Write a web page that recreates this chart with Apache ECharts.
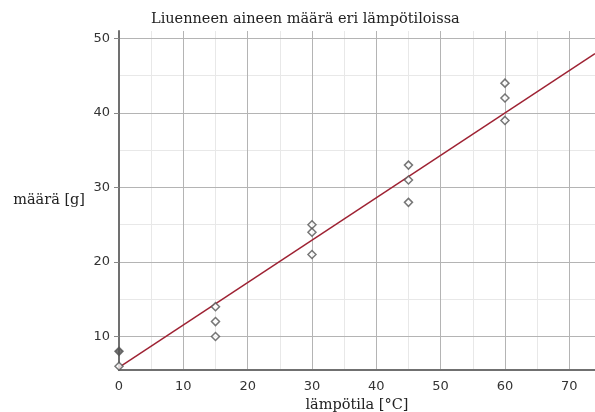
<!DOCTYPE html>
<html>
<head>
<meta charset="utf-8">
<script src="https://cdn.jsdelivr.net/npm/echarts@6/dist/echarts.min.js"></script>
<style>
  html, body { margin: 0; padding: 0; background: #fff; }
  #chart { width: 595px; height: 412px; }
</style>
</head>
<body>
<div id="chart"></div>
<script>
// mittaukset: lämpötila ja liuenneen aineen määrä
var tempX = [0, 0, 15, 15, 15, 30, 30, 30, 45, 45, 45, 60, 60, 60];
var amountY = [6, 8, 14, 12, 10, 25, 24, 21, 33, 31, 28, 44, 42, 39];
// sovitettu suora (päätepisteet luettu kuvasta)
var trendX = [0, 74];
var trendY = [5.85, 47.95];
var xTicks = [0, 10, 20, 30, 40, 50, 60, 70];
var yTicks = [10, 20, 30, 40, 50];
var yMinorTicks = [15, 25, 35, 45];

var serif = '"DejaVu Serif", serif';
var sans = '"DejaVu Sans", sans-serif';

var chart = echarts.init(document.getElementById('chart'));

var points = tempX.map(function (x, i) {
  var p = { value: [x, amountY[i]] };
  if (x === 0 && amountY[i] === 8) {
    p.itemStyle = { color: '#555' };
  }
  return p;
});

var option = {
  animation: false,
  title: {
    text: 'Liuenneen aineen määrä eri lämpötiloissa',
    left: 146,
    top: 7,
    textStyle: { fontFamily: serif, fontSize: 14.5, fontWeight: 'normal', color: '#222' }
  },
  grid: { left: 119, right: 0, top: 31, bottom: 42, containLabel: false, outerBoundsMode: 'none' },
  xAxis: [
    {
      type: 'value',
      min: 0,
      max: 74,
      interval: 10,
      name: 'lämpötila [°C]',
      nameLocation: 'middle',
      nameGap: 28,
      nameTextStyle: { fontFamily: serif, fontSize: 14.5, color: '#222' },
      axisLine: { show: true, lineStyle: { color: '#707070', width: 2 } },
      axisTick: { show: false },
      axisLabel: {
        fontFamily: sans, fontSize: 13, color: '#333', margin: 10,
        customValues: xTicks
      },
      splitLine: { show: true, lineStyle: { color: '#b4b4b4', width: 1 } },
      z: 3
    },
    {
      type: 'value',
      min: 0,
      max: 74,
      interval: 5,
      show: true,
      axisLine: { show: false },
      axisTick: { show: false },
      axisLabel: { show: false },
      splitLine: { show: true, lineStyle: { color: '#e8e8e8', width: 1 } },
      z: 1
    }
  ],
  yAxis: [
    {
      type: 'value',
      min: 5.5,
      max: 51,
      name: 'määrä [g]',
      nameLocation: 'middle',
      nameRotate: 0,
      nameGap: 34,
      nameTextStyle: { fontFamily: serif, fontSize: 14.5, color: '#222' },
      axisLine: { show: true, lineStyle: { color: '#707070', width: 2 } },
      axisTick: { show: true, length: 5, customValues: yTicks, lineStyle: { color: '#888' } },
      axisLabel: {
        fontFamily: sans, fontSize: 13, color: '#333', margin: 9,
        customValues: yTicks
      },
      splitLine: { show: true, lineStyle: { color: '#b4b4b4', width: 1 } },
      z: 3
    },
    {
      type: 'value',
      min: 5.5,
      max: 51,
      show: true,
      axisLine: { show: false },
      axisTick: { show: false, customValues: yMinorTicks },
      axisLabel: { show: false, customValues: yMinorTicks },
      splitLine: { show: true, lineStyle: { color: '#e8e8e8', width: 1 } },
      z: 1
    }
  ],
  series: [
    {
      type: 'line',
      data: trendX.map(function (x, i) { return [x, trendY[i]]; }),
      showSymbol: false,
      lineStyle: { color: '#9e2233', width: 1.5 },
      z: 4
    },
    {
      type: 'scatter',
      data: points,
      symbol: 'diamond',
      symbolSize: 8,
      itemStyle: { color: '#fff', borderColor: '#555', borderWidth: 1.5 },
      z: 5
    }
  ]
};

chart.setOption(option);
</script>
</body>
</html>
